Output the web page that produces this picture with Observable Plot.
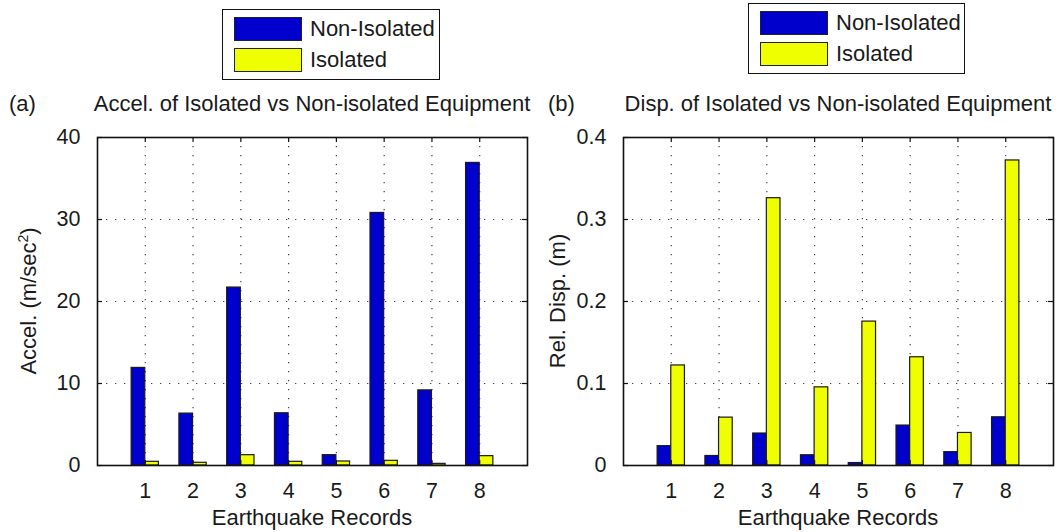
<!DOCTYPE html>
<html><head><meta charset="utf-8">
<script src="https://cdn.jsdelivr.net/npm/d3@7"></script>
<script src="https://cdn.jsdelivr.net/npm/@observablehq/plot@0.6"></script>
<style>
body{margin:0;background:#fff;font-family:"Liberation Sans",Arial,sans-serif;}
#root{position:relative;width:1064px;height:532px;overflow:hidden;background:#fff;}
.abs{position:absolute;white-space:nowrap;color:#1a1a1a;font-size:22px;line-height:1;}
.legend{position:absolute;border:1.5px solid #111;background:#fff;box-sizing:border-box;}
.sw{position:absolute;border:1.3px solid #222;box-sizing:border-box;}
.lt{position:absolute;font-size:22px;line-height:1;color:#1a1a1a;white-space:nowrap;}
.plotwrap{position:absolute;}
sup{font-size:14px;vertical-align:0;position:relative;top:-8px;}
</style></head><body><div id="root"></div>
<script>
// ---- data ----
const records = [1, 2, 3, 4, 5, 6, 7, 8];
const seriesNames = ["Non-Isolated", "Isolated"];
const seriesColors = ["#0000cc", "#f0ff00"];

const accelNonIsolated = [11.9, 6.33, 21.7, 6.37, 1.26, 30.8, 9.16, 36.9];
const accelIsolated    = [0.45, 0.33, 1.26, 0.45, 0.49, 0.57, 0.2, 1.14];
const accelTicks = [0, 10, 20, 30, 40];

const dispNonIsolated = [0.0236, 0.0116, 0.039, 0.0125, 0.003, 0.0487, 0.0163, 0.0588];
const dispIsolated    = [0.122, 0.0584, 0.326, 0.0953, 0.1755, 0.132, 0.0397, 0.372];
const dispTicks = [0, 0.1, 0.2, 0.3, 0.4];

const root = document.getElementById("root");
const H = 422, MT = 27, MB = 67, TOP = 110;

function el(cls, style, html) {
  const d = document.createElement("div");
  d.className = cls;
  Object.assign(d.style, style);
  if (html != null) d.innerHTML = html;
  root.appendChild(d);
  return d;
}

function makePanel(cfg) {
  const data = records.flatMap((r, i) => [
    {rec: r, series: seriesNames[0], value: cfg.nonIso[i]},
    {rec: r, series: seriesNames[1], value: cfg.iso[i]}
  ]);
  const barW = 2 / 7;
  const innerW = cfg.width - cfg.ml - cfg.mr;
  const innerH = H - MT - MB;
  const inner = cfg.ticks.slice(1, -1);
  const chart = Plot.plot({
    width: cfg.width, height: H,
    marginLeft: cfg.ml, marginRight: cfg.mr, marginTop: MT, marginBottom: MB,
    style: {fontFamily: '"Liberation Sans", Arial, sans-serif', fontSize: "21.5px", color: "#1a1a1a", background: "transparent"},
    x: {domain: [0, 9], axis: null},
    y: {domain: [cfg.ticks[0], cfg.ticks[cfg.ticks.length - 1]], axis: null},
    color: {domain: seriesNames, range: seriesColors},
    marks: [
      Plot.gridY(inner, {stroke: "#444", strokeOpacity: 1, strokeWidth: 1.2, strokeDasharray: "1.3,7.7"}),
      Plot.gridX(records, {stroke: "#444", strokeOpacity: 1, strokeWidth: 1.2, strokeDasharray: "1.3,7.7"}),
      Plot.rect(data, {
        x1: d => d.series === seriesNames[0] ? d.rec - barW : d.rec,
        x2: d => d.series === seriesNames[0] ? d.rec : d.rec + barW,
        y1: 0, y2: "value", fill: "series", stroke: "#1a1a1a", strokeWidth: 1.2
      }),
      Plot.tickY(cfg.ticks, {y: d => d, insetLeft: innerW - 5, stroke: "#111", strokeWidth: 1.2}),
      Plot.tickY(cfg.ticks, {y: d => d, insetRight: innerW - 5, stroke: "#111", strokeWidth: 1.2}),
      Plot.tickX(records, {x: d => d, insetTop: innerH - 5, stroke: "#111", strokeWidth: 1.2}),
      Plot.tickX(records, {x: d => d, insetBottom: innerH - 5, stroke: "#111", strokeWidth: 1.2}),
      Plot.axisY(cfg.ticks, {anchor: "left", tickSize: 0, tickPadding: 17, tickFormat: d => String(d), label: null, fill: "#1a1a1a"}),
      Plot.axisX(records, {anchor: "bottom", tickSize: 0, tickPadding: 17, tickFormat: d => String(d), label: null, fill: "#1a1a1a"}),
      Plot.frame({stroke: "#111", strokeWidth: 1.6})
    ]
  });
  const wrap = el("plotwrap", {left: cfg.left + "px", top: TOP + "px"});
  wrap.appendChild(chart);

  const x0 = cfg.left + cfg.ml, x1 = cfg.left + cfg.width - cfg.mr;
  const cx = (x0 + x1) / 2;
  // panel letter + title
  el("abs", {left: cfg.letterX + "px", top: "93px"}, cfg.letter);
  el("abs", {left: cx + "px", top: "93px", transform: "translateX(-50%)"}, cfg.title);
  // x label
  el("abs", {left: cx + "px", top: "507px", transform: "translateX(-50%)"}, "Earthquake Records");
  // y label
  el("abs", {left: cfg.ylabX + "px", top: "301px", transform: "translate(-50%,-50%) rotate(-90deg)"}, cfg.ylabel);
  // legend
  const lg = cfg.legend;
  el("legend", {left: lg.x + "px", top: lg.y + "px", width: lg.w + "px", height: lg.h + "px"});
  seriesNames.forEach((name, i) => {
    el("sw", {left: (lg.x + 12) + "px", top: (lg.y + 8 + i * 31) + "px", width: "68px", height: "24px", background: seriesColors[i]});
    el("lt", {left: (lg.x + 88) + "px", top: (lg.y + 9 + i * 31) + "px"}, name);
  });
}

makePanel({
  left: 0, width: 540, ml: 97, mr: 13,
  nonIso: accelNonIsolated, iso: accelIsolated, ticks: accelTicks,
  letter: "(a)", letterX: 9,
  title: "Accel. of Isolated vs Non-isolated Equipment",
  ylabel: "Accel. (m/sec<sup>2</sup>)", ylabX: 29,
  legend: {x: 222, y: 9, w: 218, h: 71}
});
makePanel({
  left: 530, width: 534, ml: 93, mr: 11,
  nonIso: dispNonIsolated, iso: dispIsolated, ticks: dispTicks,
  letter: "(b)", letterX: 548,
  title: "Disp. of Isolated vs Non-isolated Equipment",
  ylabel: "Rel. Disp. (m)", ylabX: 558,
  legend: {x: 748, y: 3, w: 217, h: 71}
});
</script>
</body></html>
